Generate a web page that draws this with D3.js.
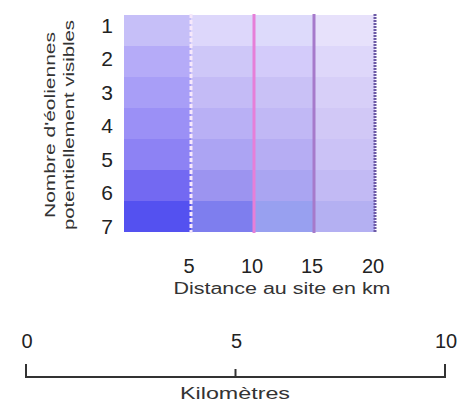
<!DOCTYPE html>
<html><head><meta charset="utf-8">
<script src="https://cdn.jsdelivr.net/npm/d3@7"></script>
<style>html,body{margin:0;padding:0;background:#fff}svg{display:block}</style>
</head><body>
<script>
// ---- data ----
const counts = [1, 2, 3, 4, 5, 6, 7];            // Nombre d'éoliennes potentiellement visibles
const distances = [5, 10, 15, 20];              // distance classes (upper bound, km)
// cell colours per distance class (rows 1..7)
const col05  = ["#c6bff8","#b5abf8","#a89ef7","#9b90f6","#8d82f4","#7369f2","#5451f0"];
const col10  = ["#ddd7fb","#cec7f8","#c4bbf6","#b9b0f5","#aca4f3","#9c94f0","#7e7eee"];
const col15  = ["#dddafb","#d3cbfa","#c9c1f6","#c1b8f5","#b6adf3","#aaa5f2","#98a0f0"];
const col20  = ["#e7e1fb","#ded7fa","#d7cff8","#d1c8f6","#cbc2f6","#c2baf4","#b4b0f2"];
const cellColors = [col05, col10, col15, col20];
const lineColors = ["#f6e8fb", "#e67fd8", "#a67acb", "#6c5aa6"];
const lineDash   = ["4,2", null, null, "2,1"];
const scaleTicks = [0, 5, 10];                   // scale bar (km)

const W = 466, H = 403;
const svg = d3.select("body").append("svg").attr("width", W).attr("height", H);
const font = "'Liberation Sans', Arial, sans-serif";

const x = d3.scaleLinear().domain([0, 5, 10, 15, 20]).range([124, 191, 254, 314, 375]);
const y = d3.scaleBand().domain(counts).range([15, 232]);
const yLab = d3.scalePoint().domain(counts).range([25, 226]);

// cells
const cells = [];
distances.forEach((d, i) => counts.forEach((c, j) => cells.push({d, c, fill: cellColors[i][j]})));
svg.append("g").selectAll("rect").data(cells).join("rect")
  .attr("x", d => x(d.d - 5)).attr("width", d => x(d.d) - x(d.d - 5))
  .attr("y", d => y(d.c)).attr("height", y.bandwidth())
  .attr("fill", d => d.fill);

// distance lines
svg.append("g").selectAll("line").data(distances).join("line")
  .attr("x1", d => x(d)).attr("x2", d => x(d))
  .attr("y1", 14).attr("y2", 233)
  .attr("stroke", (d, i) => lineColors[i]).attr("stroke-width", 3)
  .attr("stroke-dasharray", (d, i) => lineDash[i]);

// row labels
svg.append("g").selectAll("text").data(counts).join("text")
  .attr("x", 113).attr("y", d => yLab(d)).attr("dy", "0.36em")
  .attr("text-anchor", "end").attr("font-family", font).attr("font-size", 21)
  .attr("fill", "#222").text(d => d);

// y title (two lines)
const yt = svg.append("g").attr("transform", "translate(0,125) rotate(-90)");
yt.append("text").attr("x", 0).attr("y", 55).attr("text-anchor", "middle")
  .attr("font-family", font).attr("font-size", 15).attr("fill", "#333")
  .attr("textLength", 186).attr("lengthAdjust", "spacingAndGlyphs").text("Nombre d'éoliennes");
yt.append("text").attr("x", 0).attr("y", 74).attr("text-anchor", "middle")
  .attr("font-family", font).attr("font-size", 15).attr("fill", "#333")
  .attr("textLength", 210).attr("lengthAdjust", "spacingAndGlyphs").text("potentiellement visibles");

// x tick labels
svg.append("g").selectAll("text").data(distances).join("text")
  .attr("x", d => x(d) - 2).attr("y", 273).attr("text-anchor", "middle")
  .attr("font-family", font).attr("font-size", 20).attr("fill", "#222").text(d => d);
svg.append("text").attr("x", 282).attr("y", 294).attr("text-anchor", "middle")
  .attr("font-family", font).attr("font-size", 16).attr("fill", "#333")
  .attr("textLength", 217).attr("lengthAdjust", "spacingAndGlyphs").text("Distance au site en km");

// scale bar
const s = d3.scaleLinear().domain([0, 10]).range([26, 445]);
const sb = svg.append("g");
sb.append("line").attr("x1", s(0)).attr("x2", s(10)).attr("y1", 377).attr("y2", 377)
  .attr("stroke", "#333").attr("stroke-width", 2);
sb.selectAll("line.t").data(scaleTicks).join("line").attr("class", "t")
  .attr("x1", d => s(d)).attr("x2", d => s(d))
  .attr("y1", d => (d === 5 ? 369 : 364)).attr("y2", 378)
  .attr("stroke", "#333").attr("stroke-width", 2);
sb.selectAll("text").data(scaleTicks).join("text")
  .attr("x", d => s(d) + (d === 10 ? 1 : 1)).attr("y", 348).attr("text-anchor", "middle")
  .attr("font-family", font).attr("font-size", 20).attr("fill", "#222").text(d => d);
svg.append("text").attr("x", 235).attr("y", 399).attr("text-anchor", "middle")
  .attr("font-family", font).attr("font-size", 17).attr("fill", "#333")
  .attr("textLength", 110).attr("lengthAdjust", "spacingAndGlyphs").text("Kilomètres");
</script>
</body></html>
